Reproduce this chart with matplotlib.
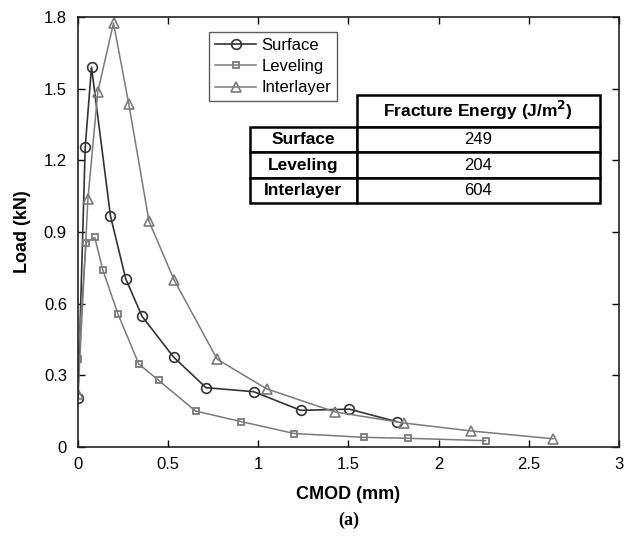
import matplotlib
matplotlib.use('Agg')
import matplotlib.pyplot as plt
from matplotlib.patches import Rectangle

plt.rcParams['font.family'] = ['Liberation Sans', 'DejaVu Sans']

# data
surface_x = [0, 0.04, 0.075, 0.18, 0.265, 0.355, 0.53, 0.71, 0.975, 1.235, 1.505, 1.77]
surface_y = [0.205, 1.255, 1.59, 0.967, 0.703, 0.547, 0.376, 0.248, 0.231, 0.153, 0.158, 0.105]

leveling_x = [0, 0.045, 0.093, 0.138, 0.222, 0.337, 0.448, 0.652, 0.904, 1.2, 1.584, 1.832, 2.26]
leveling_y = [0.37, 0.855, 0.877, 0.74, 0.556, 0.347, 0.278, 0.15, 0.106, 0.056, 0.04, 0.036, 0.026]

inter_x = [0, 0.055, 0.11, 0.197, 0.282, 0.394, 0.533, 0.772, 1.046, 1.427, 1.808, 2.177, 2.635]
inter_y = [0.22, 1.038, 1.487, 1.774, 1.434, 0.944, 0.699, 0.367, 0.243, 0.146, 0.1, 0.067, 0.034]

table_rows = ['Surface', 'Leveling', 'Interlayer']
table_vals = ['249', '204', '604']
table_head = 'Fracture Energy (J/m$^\\mathbf{2}$)'

fig = plt.figure(figsize=(6.29, 5.45), dpi=100)
ax = fig.add_axes([0.124, 0.18, 0.86, 0.789])

ax.plot(surface_x, surface_y, color='#333333', lw=1.2, marker='o', ms=7,
        mfc='none', mec='#333333', mew=1.2, label='Surface')
ax.plot(leveling_x, leveling_y, color='#7a7a7a', lw=1.1, marker='s', ms=5,
        mfc='none', mec='#7a7a7a', mew=1.3, label='Leveling')
ax.plot(inter_x, inter_y, color='#7a7a7a', lw=1.1, marker='^', ms=7.5,
        mfc='none', mec='#7a7a7a', mew=1.2, label='Interlayer')

ax.set_xlim(0, 3)
ax.set_ylim(0, 1.8)
ax.set_xticks([0, 0.5, 1, 1.5, 2, 2.5, 3])
ax.set_xticklabels(['0', '0.5', '1', '1.5', '2', '2.5', '3'])
ax.set_yticks([0, 0.3, 0.6, 0.9, 1.2, 1.5, 1.8])
ax.set_yticklabels(['0', '0.3', '0.6', '0.9', '1.2', '1.5', '1.8'])
ax.tick_params(direction='in', top=True, right=True, length=5, width=1,
               labelsize=12)
ax.tick_params(axis='x', pad=7)
ax.tick_params(axis='y', pad=8)
for s in ax.spines.values():
    s.set_linewidth(1.2)
    s.set_color('#222222')

ax.set_xlabel('CMOD (mm)', fontsize=13, fontweight='bold', labelpad=10)
ax.set_ylabel('Load (kN)', fontsize=13, fontweight='bold', labelpad=9)

leg = ax.legend(loc='upper left', bbox_to_anchor=(0.242, 0.965), fontsize=12,
                frameon=True, fancybox=False, edgecolor='#333333',
                handlelength=2.5, handletextpad=0.3, borderpad=0.35,
                labelspacing=0.38, borderaxespad=0)
leg.get_frame().set_linewidth(1.0)

# table drawn in axes fraction
x0, x1, x2 = 0.318, 0.515, 0.965
yt, yh = 0.819, 0.744
row_h = 0.059
lw = 1.8
ax.add_patch(Rectangle((x1, yh), x2 - x1, yt - yh, transform=ax.transAxes,
                       fill=True, fc='white', ec='black', lw=lw, zorder=5))
ax.text((x1 + x2) / 2, (yt + yh) / 2, table_head, transform=ax.transAxes,
        ha='center', va='center', fontsize=12.5, fontweight='bold', zorder=6)
for i, (r, v) in enumerate(zip(table_rows, table_vals)):
    top = yh - i * row_h
    bot = top - row_h
    ax.add_patch(Rectangle((x0, bot), x1 - x0, row_h, transform=ax.transAxes,
                           fc='white', ec='black', lw=lw, zorder=5))
    ax.add_patch(Rectangle((x1, bot), x2 - x1, row_h, transform=ax.transAxes,
                           fc='white', ec='black', lw=lw, zorder=5))
    ax.text((x0 + x1) / 2, (top + bot) / 2, r, transform=ax.transAxes,
            ha='center', va='center', fontsize=12.5, fontweight='bold', zorder=6)
    ax.text((x1 + x2) / 2, (top + bot) / 2, v, transform=ax.transAxes,
            ha='center', va='center', fontsize=12, zorder=6)

fig.text(0.124 + 0.43, 0.045, '(a)', ha='center', va='center',
         fontsize=13, fontweight='bold', family='Liberation Serif')

fig.savefig('out.png', dpi=100)
